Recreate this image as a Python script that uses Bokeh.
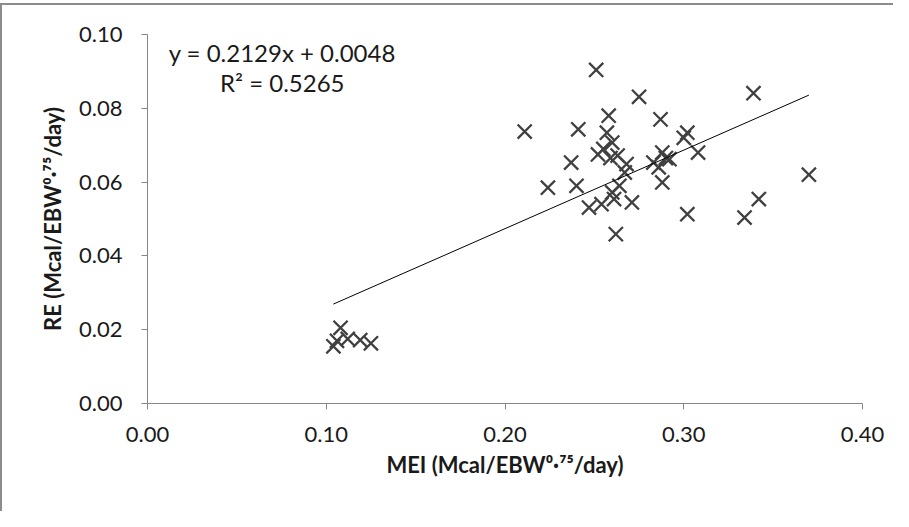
from bokeh.plotting import figure
from bokeh.models import ColumnDataSource, Label, FixedTicker, NumeralTickFormatter, Range1d
from bokeh.embed import file_html
from bokeh.resources import INLINE

# --- data ---
mei = [0.104, 0.106, 0.108, 0.112, 0.119, 0.125,
       0.211, 0.224, 0.237, 0.240, 0.241, 0.247, 0.251, 0.252, 0.254, 0.255,
       0.257, 0.258, 0.259, 0.260, 0.260, 0.261, 0.262, 0.263, 0.264, 0.267,
       0.268, 0.271, 0.275, 0.283, 0.286, 0.287, 0.288, 0.288, 0.290, 0.292,
       0.300, 0.302, 0.302, 0.308, 0.334, 0.339, 0.342, 0.370]
re_vals = [0.0155, 0.0170, 0.0205, 0.0175, 0.0172, 0.0163,
           0.0737, 0.0585, 0.0653, 0.0590, 0.0743, 0.0531, 0.0904, 0.0675, 0.0540, 0.0690,
           0.0734, 0.0780, 0.0665, 0.0707, 0.0572, 0.0554, 0.0459, 0.0672, 0.0590, 0.0626,
           0.0649, 0.0545, 0.0831, 0.0653, 0.0640, 0.0770, 0.0680, 0.0599, 0.0665, 0.0662,
           0.0720, 0.0734, 0.0513, 0.0680, 0.0504, 0.0841, 0.0554, 0.0620]
slope = 0.2129
intercept = 0.0048
r_squared = 0.5265
x_ticks = [0.0, 0.1, 0.2, 0.3, 0.4]
y_ticks = [0.0, 0.02, 0.04, 0.06, 0.08, 0.10]

trend_x = [min(mei), max(mei)]
trend_y = [slope * v + intercept for v in trend_x]

FONT = "Lato"
AX_COLOR = "#868686"
TXT = "#1a1a1a"

p = figure(frame_width=715, frame_height=369,
           x_range=Range1d(0, 0.4), y_range=Range1d(0, 0.1),
           output_backend="svg", toolbar_location=None,
           min_border_left=145, min_border_top=29,
           min_border_right=31, min_border_bottom=108)
p.styles = {"border-left": "2px solid #8c8c8c", "border-top": "2px solid #8c8c8c",
            "margin-top": "3px"}
p.outline_line_color = None
p.background_fill_color = "white"
p.border_fill_color = "white"
p.xgrid.visible = False
p.ygrid.visible = False

src = ColumnDataSource(dict(x=mei, y=re_vals))
p.scatter("x", "y", source=src, marker="x", size=20, line_color="#404040", line_width=2.3)
p.line(trend_x, trend_y, line_color="black", line_width=1)

for ax in (p.xaxis[0], p.yaxis[0]):
    ax.axis_line_color = AX_COLOR
    ax.axis_line_width = 1
    ax.major_tick_line_color = AX_COLOR
    ax.major_tick_in = 0
    ax.major_tick_out = 6
    ax.minor_tick_line_color = None
    ax.major_label_text_font = FONT
    ax.major_label_text_font_size = "22px"
    ax.major_label_text_color = TXT
    ax.axis_label_text_font = FONT
    ax.axis_label_text_font_size = "22px"
    ax.axis_label_text_font_style = "bold"
    ax.axis_label_text_color = TXT
    ax.formatter = NumeralTickFormatter(format="0.00")

p.xaxis.ticker = FixedTicker(ticks=x_ticks)
p.yaxis.ticker = FixedTicker(ticks=y_ticks)
p.xaxis.major_label_standoff = 17
p.yaxis.major_label_standoff = 19
p.xaxis.axis_label = "MEI (Mcal/EBW\u2070\u00b7\u2077\u2075/day)"
p.yaxis.axis_label = "RE (Mcal/EBW\u2070\u00b7\u2077\u2075/day)"
p.xaxis.axis_label_standoff = 6
p.yaxis.axis_label_standoff = 10

eq1 = Label(x=0.0754, y=0.0951, text=f"y = {slope:.4f}x + {intercept:.4f}",
            text_font=FONT, text_font_size="24px", text_align="center",
            text_baseline="alphabetic", text_color=TXT)
eq2 = Label(x=0.0754, y=0.0870, text=f"R\u00b2 = {r_squared:.4f}",
            text_font=FONT, text_font_size="24px", text_align="center",
            text_baseline="alphabetic", text_color=TXT)
p.add_layout(eq1)
p.add_layout(eq2)

open("out.html", "w").write(file_html(p, INLINE))
